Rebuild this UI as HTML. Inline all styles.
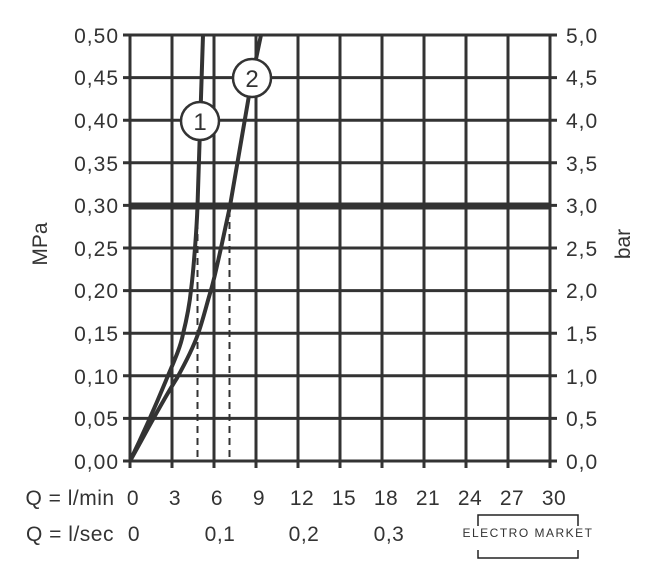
<!DOCTYPE html>
<html><head><style>
body{margin:0;background:#fff}
svg{display:block}
text{font-family:"Liberation Sans",sans-serif;fill:#333}
</style></head><body>
<svg width="656" height="571" viewBox="0 0 656 571" xmlns="http://www.w3.org/2000/svg">
<g stroke="#333" stroke-width="3" fill="none">
<path d="M130 35V461M172 35V461M214 35V461M256 35V461M298 35V461M340 35V461M382 35V461M424 35V461M466 35V461M508 35V461M550 35V461"/>
<path d="M123 35H557M123 77.6H557M123 120.2H557M123 162.8H557M123 205.4H557M123 248H557M123 290.6H557M123 333.2H557M123 375.8H557M123 418.4H557M123 461H557"/>
<path d="M130 461v7M172 461v7M214 461v7M256 461v7M298 461v7M340 461v7M382 461v7M424 461v7M466 461v7M508 461v7M550 461v7"/>
</g>
<g stroke="#333" stroke-width="2" stroke-dasharray="7,5" fill="none">
<path d="M197.5 210V461M229.5 210V461"/>
</g>
<path d="M130 206H550" stroke="#333" stroke-width="7"/>
<g stroke="#333" stroke-width="4" fill="none">
<path d="M130 461 C145 430,158 400,167 378 C176 357,181 345,183 334 C187 318,190 300,191 290 C193 275,194 260,195 248 C196 235,197 220,197.5 206 C199 160,201 100,203 35"/>
<path d="M130 461 C142 440,160 405,177 378 C187 360,193 348,198 334 C203 320,207 303,211 290 C215 276,218 261,221 248 C224 234,227 220,230 206 C238 160,246 115,252 78 L261 35"/>
</g>
<g stroke="#333" stroke-width="2.5" fill="#fff">
<circle cx="200" cy="121" r="19"/>
<circle cx="252" cy="78" r="19"/>
</g>
<text x="200" y="130" font-size="24" text-anchor="middle">1</text>
<text x="252" y="87" font-size="24" text-anchor="middle">2</text>
<g font-size="21" text-anchor="end" letter-spacing="1">
<text x="119" y="43">0,50</text><text x="119" y="85">0,45</text><text x="119" y="128">0,40</text><text x="119" y="171">0,35</text><text x="119" y="213">0,30</text><text x="119" y="256">0,25</text><text x="119" y="298">0,20</text><text x="119" y="341">0,15</text><text x="119" y="384">0,10</text><text x="119" y="426">0,05</text><text x="119" y="469">0,00</text>
</g>
<g font-size="21" letter-spacing="1">
<text x="566" y="43">5,0</text><text x="566" y="85">4,5</text><text x="566" y="128">4,0</text><text x="566" y="171">3,5</text><text x="566" y="213">3,0</text><text x="566" y="256">2,5</text><text x="566" y="298">2,0</text><text x="566" y="341">1,5</text><text x="566" y="384">1,0</text><text x="566" y="426">0,5</text><text x="566" y="469">0,0</text>
</g>
<text transform="translate(47,244) rotate(-90)" font-size="21" text-anchor="middle">MPa</text>
<text transform="translate(630,244) rotate(-90)" font-size="21" text-anchor="middle">bar</text>
<g font-size="21" text-anchor="middle" letter-spacing="0.5">
<text x="70" y="505">Q = l/min</text>
<text x="133" y="505">0</text><text x="175" y="505">3</text><text x="217" y="505">6</text><text x="259" y="505">9</text><text x="302" y="505">12</text><text x="344" y="505">15</text><text x="386" y="505">18</text><text x="428" y="505">21</text><text x="470" y="505">24</text><text x="512" y="505">27</text><text x="554" y="505">30</text>
<text x="70" y="541">Q = l/sec</text>
<text x="134" y="541">0</text><text x="220" y="541">0,1</text><text x="304" y="541">0,2</text><text x="389" y="541">0,3</text>
</g>
<path d="M478 526v-11h100v11M478 550v8h100v-8" stroke="#222" stroke-width="1.5" fill="none"/>
<text x="528" y="537" font-size="12" text-anchor="middle" letter-spacing="1.5" fill="#111">ELECTRO MARKET</text>
</svg>
</body></html>
